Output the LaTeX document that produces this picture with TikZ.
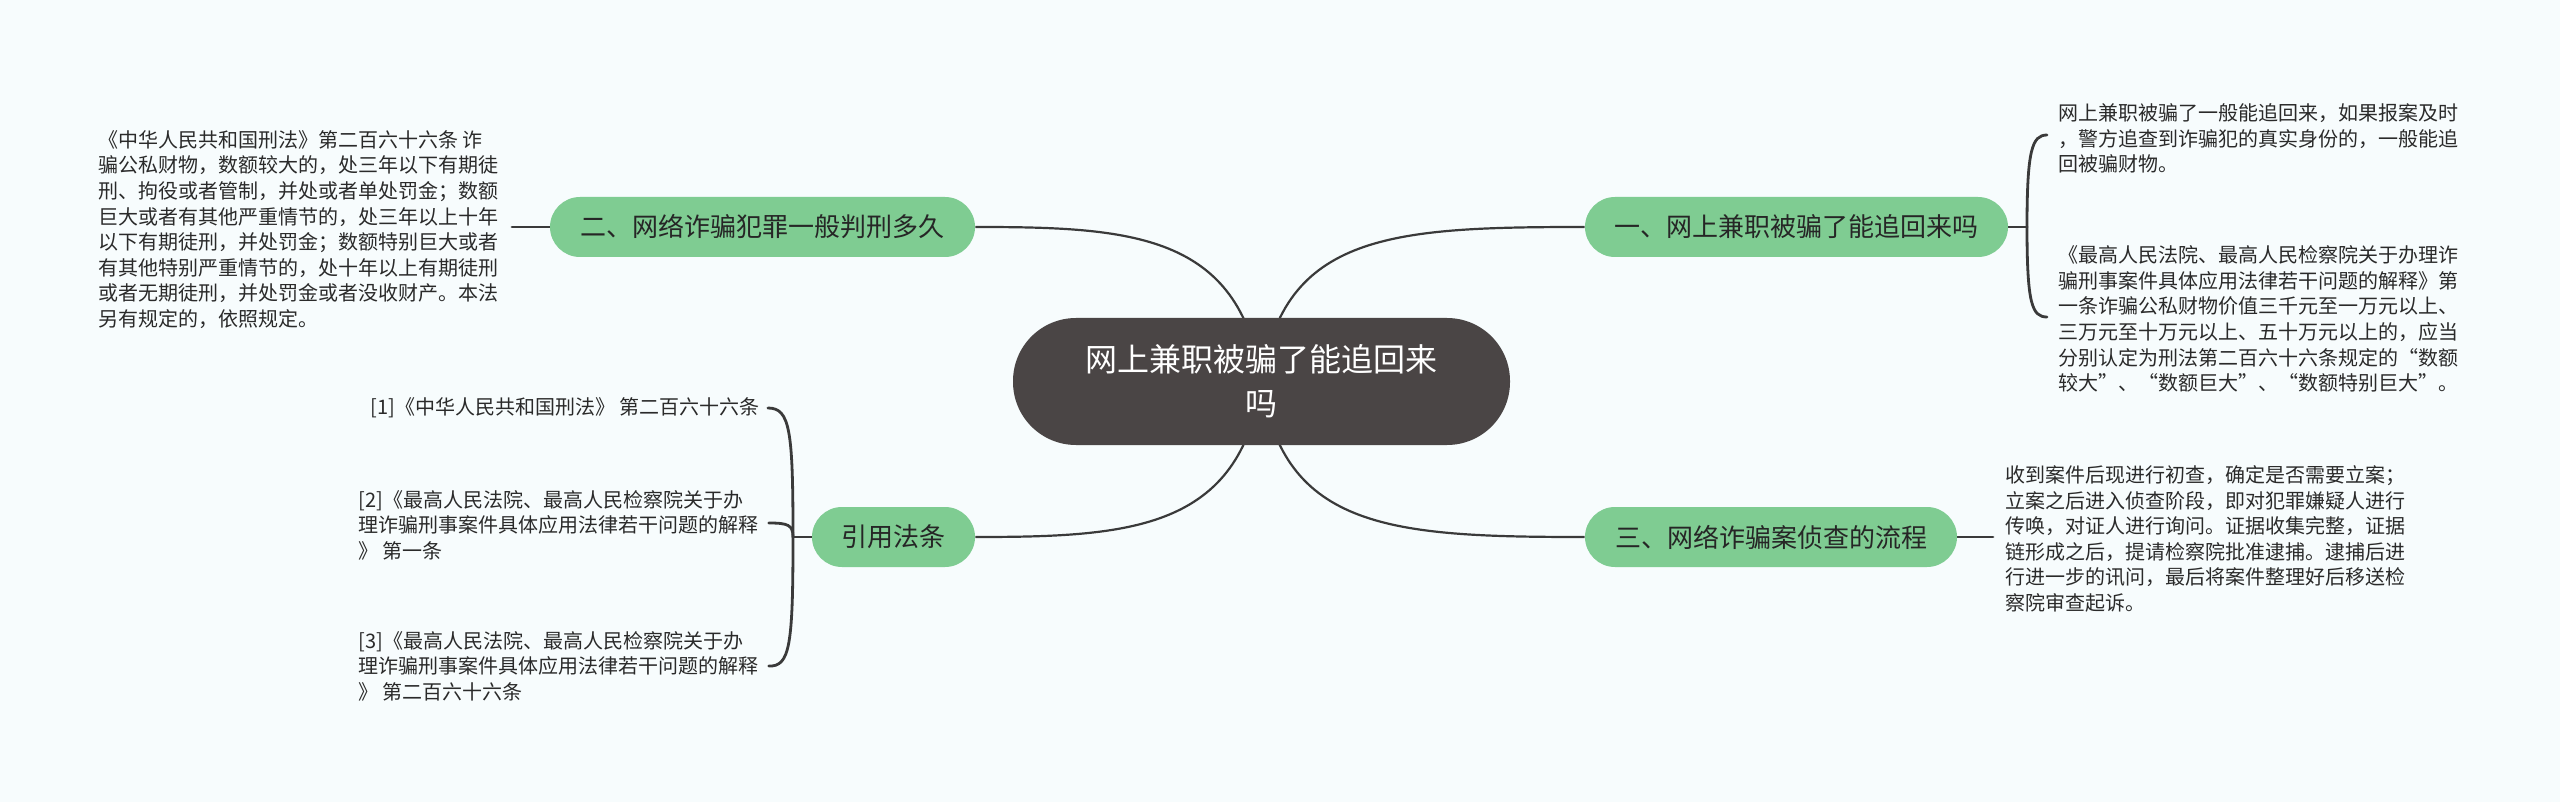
\documentclass[tikz,border=0pt]{standalone}
\usepackage{fontspec}
\setmainfont{Noto Sans CJK SC}
\usepackage{tikz}
\usetikzlibrary{positioning,calc}
\definecolor{fond}{HTML}{F7FCFD}
\definecolor{racineC}{HTML}{4A4545}
\definecolor{vert}{HTML}{7FCC92}
\definecolor{trait}{HTML}{3A3A3A}
\definecolor{texte}{HTML}{2A2A2A}
\pgfdeclarelayer{dessous}
\pgfsetlayers{dessous,main}
\tikzset{
  racine/.style={rectangle, rounded corners=31.5pt, fill=racineC, text=white, align=center,
                 font=\fontsize{16}{22}\selectfont, minimum width=248.5pt, minimum height=63.5pt, inner sep=0pt},
  branche/.style={rectangle, rounded corners=15pt, fill=vert, text=black!85,
                  font=\fontsize{13}{15}\selectfont, minimum height=30pt, inner sep=0pt},
  feuille/.style={anchor=west, align=left, text=texte, font=\fontsize{10}{12.8}\selectfont, inner sep=0pt},
  lien/.style={draw=trait, line width=1.1pt},
  accolade/.style={draw=trait, line width=1.4pt, line cap=round},
}

\begin{document}
\begin{tikzpicture}[x=0.5pt, y={(0pt,-0.5pt)}]
    \useasboundingbox (0,0) rectangle (2560,802);
    \node[racine] (root) at (1261.5,381.5) {网上兼职被骗了能追回来\\吗};
    \node[branche, minimum width=211.5pt] (b1) at (1796.5,227) {一、网上兼职被骗了能追回来吗};
    \node[branche, minimum width=212.5pt] (b2) at (762.5,227) {二、网络诈骗犯罪一般判刑多久};
    \node[branche, minimum width=186pt] (b3) at (1771,537) {三、网络诈骗案侦查的流程};
    \node[branche, minimum width=81.5pt] (b4) at (893.5,537) {引用法条};
    % feuilles
    \node[feuille] (l1a) at (2058,138.5)
      {网上兼职被骗了一般能追回来，如果报案及时\\
       ，警方追查到诈骗犯的真实身份的，一般能追\\
       回被骗财物。};
    \node[feuille] (l1b) at (2058,319)
      {《最高人民法院、最高人民检察院关于办理诈\\
       骗刑事案件具体应用法律若干问题的解释》第\\
       一条诈骗公私财物价值三千元至一万元以上、\\
       三万元至十万元以上、五十万元以上的，应当\\
       分别认定为刑法第二百六十六条规定的“数额\\
       较大”、“数额巨大”、“数额特别巨大”。};
    \node[feuille] (l2) at (98,229.5)
      {《中华人民共和国刑法》第二百六十六条 诈\\
       骗公私财物，数额较大的，处三年以下有期徒\\
       刑、拘役或者管制，并处或者单处罚金；数额\\
       巨大或者有其他严重情节的，处三年以上十年\\
       以下有期徒刑，并处罚金；数额特别巨大或者\\
       有其他特别严重情节的，处十年以上有期徒刑\\
       或者无期徒刑，并处罚金或者没收财产。本法\\
       另有规定的，依照规定。};
    \node[feuille] (l3) at (2005,539)
      {收到案件后现进行初查，确定是否需要立案；\\
       立案之后进入侦查阶段，即对犯罪嫌疑人进行\\
       传唤，对证人进行询问。证据收集完整，证据\\
       链形成之后，提请检察院批准逮捕。逮捕后进\\
       行进一步的讯问，最后将案件整理好后移送检\\
       察院审查起诉。};
    \node[feuille] (r1) at (370,408) {[1]《中华人民共和国刑法》 第二百六十六条};
    \node[feuille] (r2) at (358,525)
      {[2]《最高人民法院、最高人民检察院关于办\\
       理诈骗刑事案件具体应用法律若干问题的解释\\
       》 第一条};
    \node[feuille] (r3) at (358,666)
      {[3]《最高人民法院、最高人民检察院关于办\\
       理诈骗刑事案件具体应用法律若干问题的解释\\
       》 第二百六十六条};
    \coordinate (j1) at (2027,227);
    \coordinate (j2) at (512,227);
    \coordinate (j3) at (1993,537);
    \coordinate (j4) at (793,537);
    \begin{pgfonlayer}{dessous}
      \fill[fond] (0,0) rectangle (2560,802);
      \draw[lien] (b2.east) .. controls (1130,227) and (1240,233) .. (root.center);
      \draw[lien] (b1.west) .. controls (1393,227) and (1283,233) .. (root.center);
      \draw[lien] (b4.east) .. controls (1130,537) and (1240,530) .. (root.center);
      \draw[lien] (b3.west) .. controls (1393,537) and (1283,530) .. (root.center);
      % accolades
      \draw[accolade] (b1.east) -- (j1);
      \draw[accolade] (j1) .. controls (2027,150) and (2032,135) .. ($(l1a.west)+(-11,-3.5)$);
      \draw[accolade] (j1) .. controls (2027,304) and (2032,317) .. ($(l1b.west)+(-11,-2)$);
      \draw[accolade] (b2.west) -- (j2);
      \draw[accolade] (b3.east) -- (j3);
      \draw[accolade] (b4.west) -- (j4);
      \draw[accolade] (j4) .. controls (793,430) and (790,408) .. ($(r1.east)+(8,0)$);
      \draw[accolade] (j4) .. controls (793,525) and (788,523) .. ($(r2.east)+(10,-2)$);
      \draw[accolade] (j4) .. controls (793,645) and (790,667) .. ($(r3.east)+(10,0)$);
    \end{pgfonlayer}
\end{tikzpicture}
\end{document}
